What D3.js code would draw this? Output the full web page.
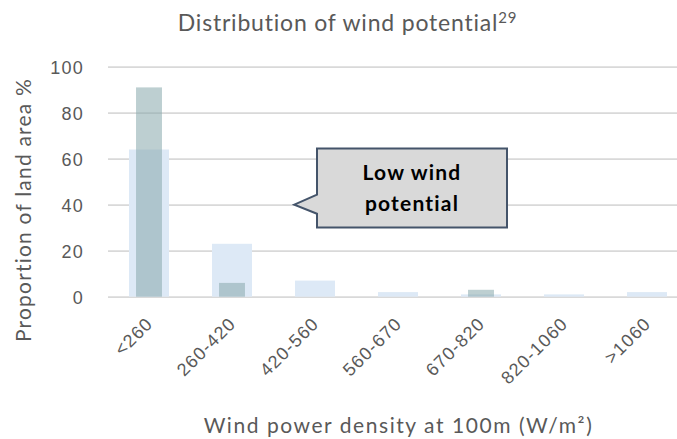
<!DOCTYPE html>
<html>
<head>
<meta charset="utf-8">
<script src="https://cdn.jsdelivr.net/npm/d3@7/dist/d3.min.js"></script>
<style>
  html, body { margin: 0; padding: 0; background: #ffffff; }
  svg { display: block; font-family: Lato, "Open Sans", sans-serif; }
</style>
</head>
<body>
<svg id="chart" width="677" height="439"></svg>
<script>
// ---- data ----
const categories = ["<260", "260-420", "420-560", "560-670", "670-820", "820-1060", ">1060"];
const seriesLight = [64, 23, 7, 2, 1, 1, 2];
const seriesDark = [91, 6, 0, 0, 3, 0, 0];
const yTicks = [0, 20, 40, 60, 80, 100];
const titleText = "Distribution of wind potential";
const titleSup = "29";
const yTitle = "Proportion of land area %";
const xTitle = "Wind power density at 100m (W/m²)";
const calloutLines = ["Low wind", "potential"];

// ---- layout ----
const svg = d3.select("#chart");
const plotLeft = 108, plotRight = 677;
const y = d3.scaleLinear().domain([0, 100]).range([296.7, 66.7]);
const x = d3.scaleBand().domain(categories).range([107.5, 688.5]).paddingInner(0).paddingOuter(0);
const step = x.step();
const lightW = step * 0.482, darkW = step * 0.313;
const textColor = "#595959";

// gridlines + y labels
const yAxis = d3.axisLeft(y).tickValues(yTicks).tickSize(-(plotRight - plotLeft)).tickPadding(24);
const gy = svg.append("g").attr("transform", `translate(${plotLeft},0)`).call(yAxis);
gy.select(".domain").remove();
gy.selectAll(".tick line").attr("stroke", "#d9d9d9").attr("stroke-width", 1.8);
gy.selectAll(".tick text")
  .attr("fill", textColor)
  .style("font-size", "18px")
  .style("letter-spacing", "1.2px")
  .attr("dy", "0.36em");

// light bars
svg.append("g").selectAll("rect")
  .data(categories.map((c, i) => ({ c, v: seriesLight[i] })))
  .join("rect")
  .attr("x", d => x(d.c) + step / 2 - lightW / 2)
  .attr("width", lightW)
  .attr("y", d => y(d.v))
  .attr("height", d => y(0) - y(d.v))
  .attr("fill", "#dde9f6");

// dark bars (semi transparent)
svg.append("g").selectAll("rect")
  .data(categories.map((c, i) => ({ c, v: seriesDark[i] })))
  .join("rect")
  .attr("x", d => x(d.c) + step / 2 - darkW / 2)
  .attr("width", darkW)
  .attr("y", d => y(d.v))
  .attr("height", d => y(0) - y(d.v))
  .attr("fill", "rgb(137,169,173)")
  .attr("fill-opacity", 0.56);

// x tick labels (rotated)
const xAxis = d3.axisBottom(x).tickSize(0).tickPadding(0);
const gx = svg.append("g").attr("transform", `translate(0,${y(0)})`).call(xAxis);
gx.select(".domain").remove();
gx.selectAll(".tick text")
  .attr("fill", textColor)
  .style("font-size", "18px")
  .style("letter-spacing", "1.2px")
  .attr("text-anchor", "end")
  .attr("dy", null)
  .attr("y", null)
  .attr("transform", "translate(5,28) rotate(-45)");

// title
const t = svg.append("text")
  .attr("x", 347.5).attr("y", 31)
  .attr("text-anchor", "middle")
  .attr("fill", textColor)
  .style("font-size", "23px")
  .style("letter-spacing", "0.8px");
t.append("tspan").text(titleText);
t.append("tspan").attr("dy", -8).style("font-size", "15px").text(titleSup);

// y title
svg.append("text")
  .attr("transform", "translate(31,210) rotate(-90)")
  .attr("text-anchor", "middle")
  .attr("fill", textColor)
  .style("font-size", "21px")
  .style("letter-spacing", "1.2px")
  .text(yTitle);

// x title
svg.append("text")
  .attr("x", 398.5).attr("y", 433)
  .attr("text-anchor", "middle")
  .attr("fill", textColor)
  .style("font-size", "21px")
  .style("letter-spacing", "1.55px")
  .text(xTitle);

// callout
const cL = 317, cR = 507, cT = 148.5, cB = 227.5, tipX = 294.3, tipY = y(40);
svg.append("path")
  .attr("d", `M${cL},${cT} H${cR} V${cB} H${cL} V${tipY + 9} L${tipX},${tipY} L${cL},${tipY - 10} Z`)
  .attr("fill", "#d9d9d9")
  .attr("stroke", "#44546a")
  .attr("stroke-width", 2)
  .attr("stroke-linejoin", "miter");
svg.append("g").selectAll("text")
  .data(calloutLines)
  .join("text")
  .attr("x", (cL + cR) / 2)
  .attr("y", (d, i) => 180 + i * 31)
  .attr("text-anchor", "middle")
  .attr("fill", "#000000")
  .style("font-size", "21px")
  .style("font-weight", "bold")
  .style("letter-spacing", "1.2px")
  .text(d => d);
</script>
</body>
</html>
